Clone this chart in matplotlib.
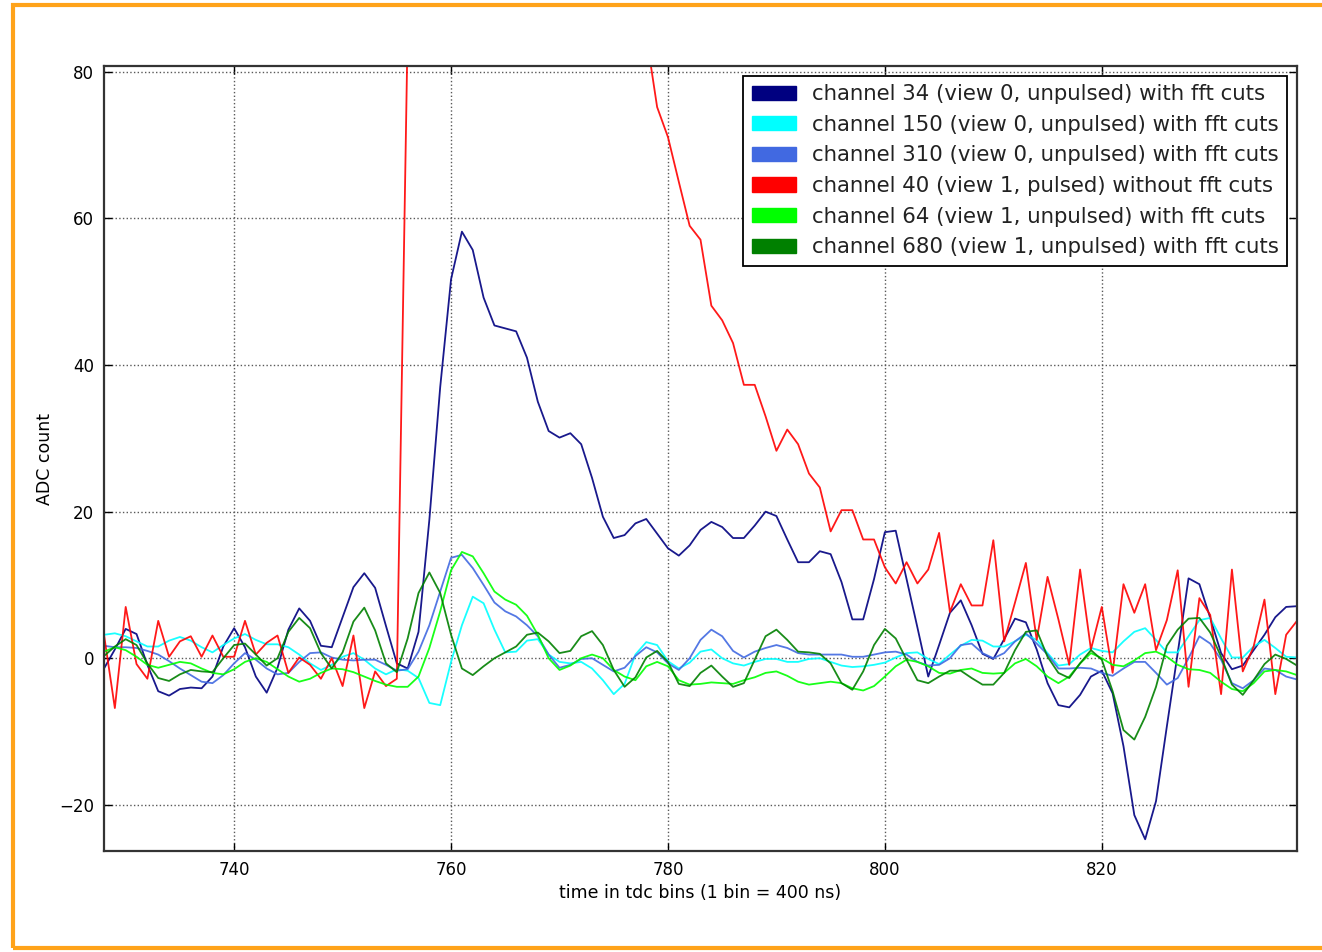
import matplotlib
matplotlib.use("Agg")
import matplotlib.pyplot as plt
import matplotlib.patches as mpatches

# ---- data (ADC counts per tdc bin) ----
tdc_bins = list(range(728, 839))

ch34 = [-1.4, 1.2, 4.0, 3.3, -0.9, -4.5, -5.1, -4.2, -4.0, -4.1,
        -2.5, 1.6, 4.1, 1.5, -2.5, -4.7, -1.3, 3.9, 6.8, 5.1,
        1.7, 1.5, 5.6, 9.7, 11.6, 9.6, 4.4, -0.7, -1.4, 3.6,
        18.9, 37.0, 51.7, 58.2, 55.7, 49.2, 45.4, 45.0, 44.6, 41.0,
        35.0, 31.0, 30.1, 30.7, 29.2, 24.6, 19.3, 16.4, 16.8, 18.4,
        19.0, 17.0, 15.0, 14.0, 15.4, 17.5, 18.6, 17.9, 16.4, 16.4,
        18.1, 20.0, 19.4, 16.2, 13.1, 13.1, 14.6, 14.2, 10.4, 5.3,
        5.3, 10.8, 17.2, 17.4, 10.8, 4.2, -2.5, 1.8, 6.2, 7.9,
        4.5, 0.6, -0.1, 2.6, 5.4, 4.9, 1.2, -3.4, -6.4, -6.7,
        -5.0, -2.5, -1.7, -4.8, -12.0, -21.4, -24.7, -19.5, -9.3, 0.7,
        10.9, 10.1, 5.5, 0.7, -1.5, -1.0, 1.1, 3.2, 5.6, 7.0,
        7.1]

ch150 = [3.2, 3.4, 3.0, 2.3, 1.6, 1.6, 2.4, 2.9, 2.4, 1.5,
         0.8, 1.8, 2.7, 3.3, 2.5, 1.9, 1.9, 1.5, 0.5, -0.7,
         -1.6, -0.9, 0.2, 0.7, -0.2, -1.4, -2.2, -1.5, -1.7, -2.7,
         -6.1, -6.4, -0.5, 4.5, 8.4, 7.5, 3.9, 0.8, 0.9, 2.4,
         2.6, 0.5, -0.5, -0.7, -0.5, -1.4, -3.0, -4.9, -3.5, 0.5,
         2.2, 1.8, -0.4, -1.4, -0.6, 0.9, 1.2, 0.0, -0.7, -1.0,
         -0.5, -0.1, -0.1, -0.5, -0.5, -0.1, 0.0, -0.5, -1.0, -1.2,
         -1.1, -0.9, -0.6, 0.1, 0.7, 0.8, -0.1, -0.8, 0.5, 1.7,
         2.5, 2.4, 1.6, 1.6, 2.3, 3.2, 2.5, 0.7, -1.0, -0.8,
         0.5, 1.4, 1.0, 0.8, 2.3, 3.6, 4.1, 2.5, 0.8, 0.8,
         3.0, 5.2, 5.5, 2.7, 0.1, 0.1, 1.6, 2.5, 1.4, 0.2,
         0.1]

ch310 = [1.7, 1.5, 1.5, 1.4, 1.0, 0.5, -0.4, -1.4, -2.3, -3.2,
         -3.4, -2.3, -0.7, 0.7, -0.2, -1.4, -2.2, -2.0, -0.5, 0.7,
         0.8, 0.1, -0.2, -0.3, -0.2, -0.2, -0.9, -1.7, -1.5, 0.9,
         4.5, 9.1, 13.7, 14.1, 12.3, 10.0, 7.6, 6.4, 5.7, 4.5,
         3.0, 0.5, -1.3, -0.9, -0.1, 0.0, -0.9, -1.8, -1.3, 0.3,
         1.5, 0.8, -0.7, -1.6, 0.0, 2.5, 3.9, 3.0, 1.0, 0.1,
         0.9, 1.4, 1.8, 1.4, 0.7, 0.5, 0.5, 0.5, 0.5, 0.2,
         0.2, 0.5, 0.8, 0.9, 0.5, -0.5, -1.0, -0.9, 0.0, 1.8,
         2.0, 0.7, 0.0, 0.7, 2.3, 3.4, 2.0, 0.5, -1.4, -1.4,
         -1.3, -1.4, -2.0, -2.4, -1.4, -0.5, -0.5, -2.0, -3.6, -2.7,
         0.0, 3.0, 2.0, -0.2, -3.4, -4.1, -3.0, -1.4, -1.6, -2.5,
         -2.9]

ch40 = [3.2, -6.8, 7.0, -0.8, -2.8, 5.1, 0.2, 2.3, 3.0, 0.2,
        3.1, 0.2, 0.2, 5.1, 0.5, 2.1, 3.1, -2.0, 0.1, -0.9,
        -2.8, 0.0, -3.8, 3.1, -6.8, -1.8, -3.8, -2.8, 86.0, 170.0,
        230.0, 250.0, 245.0, 235.0, 222.0, 210.0, 198.0, 187.0, 176.0, 166.0,
        157.0, 148.0, 140.0, 132.0, 125.0, 119.0, 113.0, 108.0, 104.0, 100.0,
        85.0, 75.2, 71.1, 65.0, 59.0, 57.1, 48.1, 46.1, 43.0, 37.3,
        37.3, 33.0, 28.3, 31.2, 29.2, 25.2, 23.3, 17.3, 20.2, 20.2,
        16.2, 16.2, 12.4, 10.2, 13.1, 10.2, 12.1, 17.1, 6.3, 10.1,
        7.2, 7.2, 16.1, 2.3, 7.6, 13.0, 2.5, 11.1, 5.3, -0.9,
        12.1, 1.2, 7.0, -2.0, 10.1, 6.2, 10.1, 1.1, 5.2, 12.0,
        -3.9, 8.2, 5.9, -4.9, 12.1, -1.8, 1.6, 8.0, -4.9, 3.2,
        5.1]

ch64 = [0.9, 1.5, 1.1, 0.2, -0.9, -1.3, -0.9, -0.5, -0.7, -1.4,
        -2.0, -2.2, -1.5, -0.5, 0.0, -0.5, -1.5, -2.5, -3.2, -2.8,
        -2.0, -1.4, -1.5, -1.9, -2.5, -3.1, -3.6, -3.9, -3.9, -2.5,
        1.4, 6.4, 12.0, 14.5, 13.9, 11.6, 9.1, 8.0, 7.3, 5.8,
        3.2, 0.0, -1.6, -1.0, 0.0, 0.5, 0.0, -1.6, -2.5, -3.0,
        -1.1, -0.5, -1.1, -3.0, -3.6, -3.5, -3.3, -3.4, -3.5, -3.0,
        -2.6, -2.0, -1.8, -2.4, -3.2, -3.6, -3.4, -3.2, -3.4, -4.1,
        -4.4, -3.8, -2.5, -1.1, -0.2, -0.5, -1.1, -2.0, -2.1, -1.6,
        -1.4, -2.0, -2.1, -2.0, -0.7, -0.1, -1.1, -2.5, -3.4, -2.5,
        -0.7, 0.7, 0.0, -0.9, -1.1, -0.3, 0.7, 0.9, 0.2, -0.9,
        -1.5, -1.6, -2.0, -3.2, -4.2, -4.5, -3.4, -1.8, -1.6, -1.8,
        -2.3]

ch680 = [0.3, 1.6, 2.6, 1.8, -0.7, -2.7, -3.1, -2.2, -1.6, -1.8,
         -1.9, 0.0, 1.8, 2.0, 0.5, -1.0, 0.0, 3.6, 5.5, 4.1,
         0.7, -1.4, 0.8, 5.0, 6.9, 3.8, -0.7, -1.9, 2.7, 8.9,
         11.7, 8.9, 3.2, -1.4, -2.3, -1.1, 0.0, 0.8, 1.6, 3.2,
         3.5, 2.3, 0.7, 1.0, 3.0, 3.7, 1.8, -1.6, -3.9, -2.6,
         0.1, 1.0, -0.5, -3.5, -3.8, -2.0, -1.0, -2.5, -3.9, -3.4,
         -0.2, 3.0, 3.9, 2.5, 0.9, 0.8, 0.6, -0.7, -3.4, -4.3,
         -1.8, 1.8, 4.0, 2.7, -0.2, -3.0, -3.4, -2.5, -1.7, -1.7,
         -2.7, -3.6, -3.6, -2.0, 1.1, 3.6, 3.8, 0.2, -2.0, -2.7,
         -0.7, 1.1, -0.2, -4.5, -9.8, -11.1, -8.0, -3.9, 1.7, 3.9,
         5.4, 5.5, 3.5, 0.2, -3.6, -5.0, -3.0, -0.8, 0.5, -0.1,
         -1.0]

labels = ["channel 34 (view 0, unpulsed) with fft cuts",
          "channel 150 (view 0, unpulsed) with fft cuts",
          "channel 310 (view 0, unpulsed) with fft cuts",
          "channel 40 (view 1, pulsed) without fft cuts",
          "channel 64 (view 1, unpulsed) with fft cuts",
          "channel 680 (view 1, unpulsed) with fft cuts"]
colors = ["#000080", "#00FFFF", "#4169E1", "#FF0000", "#00FF00", "#008000"]
series = [ch34, ch150, ch310, ch40, ch64, ch680]

x_ticks = [740, 760, 780, 800, 820]
y_ticks = [-20, 0, 20, 40, 60, 80]

# ---- figure ----
plt.rcParams['font.family'] = ['DejaVu Sans']
fig = plt.figure(figsize=(13.22, 9.52), dpi=100)
fig.patch.set_facecolor("white")
ax = fig.add_axes([104 / 1322, 1 - 851 / 952, (1297 - 104) / 1322, (851 - 66) / 952])

for vals, col in zip(series, colors):
    ax.plot(tdc_bins, vals, color=col, lw=1.3, alpha=0.9)

ax.set_xlim(728, 838)
ax.set_ylim(-26.3, 80.8)
ax.set_xticks(x_ticks)
ax.set_yticks(y_ticks)
ax.tick_params(direction="in", top=True, right=True, length=6, width=1,
               labelsize=12, pad=7)
ax.grid(True, color="0.35", linestyle=":", linewidth=1.0)
for sp in ax.spines.values():
    sp.set_linewidth(1.6)
    sp.set_color("#333333")

ax.set_xlabel("time in tdc bins (1 bin = 400 ns)", fontsize=12.5)
ax.set_ylabel("ADC count", fontsize=12.5, labelpad=4)

handles = [mpatches.Patch(color=c, label=l) for c, l in zip(colors, labels)]
leg = ax.legend(handles=handles, loc="upper right", fontsize=15.3,
                fancybox=False, framealpha=1, edgecolor="black",
                handlelength=2.1, handleheight=0.65, handletextpad=0.75,
                borderpad=0.4, labelspacing=0.5, borderaxespad=0.45)
leg.get_frame().set_linewidth(1.3)
for t in leg.get_texts():
    t.set_color("#222222")

# orange screenshot frame
frame = mpatches.Rectangle((13 / 1322, 1 - 948 / 952), 1.2, (948 - 5) / 952,
                           transform=fig.transFigure, fill=False,
                           edgecolor="#FFA31A", linewidth=3, clip_on=False)
fig.add_artist(frame)

fig.savefig("out.png", dpi=100, facecolor="white")
